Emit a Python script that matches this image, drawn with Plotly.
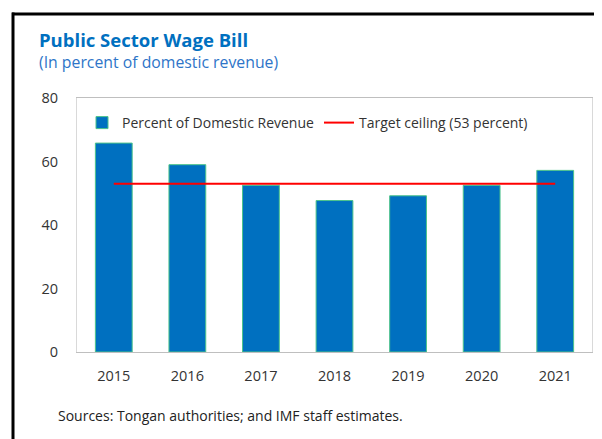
import plotly.graph_objects as go

years = ["2015", "2016", "2017", "2018", "2019", "2020", "2021"]
wage_bill = [65.8, 59.0, 52.5, 47.7, 49.2, 52.5, 57.2]
ceiling = [53, 53, 53, 53, 53, 53, 53]
y_ticks = [0, 20, 40, 60, 80]

# page offset (default body margin of the html page)
OFF = 8
W, H = 602 - OFF, 439 - OFF
L, R, T, B = 69, 10, 90, 87
pw, ph = W - L - R, H - T - B

def px(x):
    return (x - OFF - L) / pw

def py(y):
    return (H - B - (y - OFF)) / ph

FONT = "Open Sans"
BLUE = "#0070C0"

fig = go.Figure()
fig.add_trace(go.Bar(
    x=years, y=wage_bill, name="Percent of Domestic Revenue",
    marker=dict(color=BLUE, line=dict(color="#4CC38A", width=1)),
))
fig.add_trace(go.Scatter(
    x=years, y=ceiling, name="Target ceiling (53 percent)",
    mode="lines", line=dict(color="#FF0000", width=2),
))

fig.update_layout(
    width=W, height=H,
    margin=dict(l=L, r=R, t=T, b=B),
    paper_bgcolor="white", plot_bgcolor="white",
    bargap=0.5,
    font=dict(family=FONT, size=13, color="#333333"),
    showlegend=True,
    legend=dict(orientation="h", x=px(82), y=py(123), xanchor="left", yanchor="middle",
                font=dict(size=14, color="#333333"), bgcolor="rgba(0,0,0,0)",
                itemwidth=30, tracegroupgap=0, entrywidth=192),
    xaxis=dict(showgrid=False, showline=True, linecolor="#BFBFBF", linewidth=1,
               mirror=True, ticks="", tickfont=dict(size=14.5, color="#333333"),
               ticklabelstandoff=11),
    yaxis=dict(range=[0, 80], tickvals=y_ticks, showgrid=False, showline=True,
               linecolor="#D9D9D9", linewidth=1, mirror=True, ticks="",
               zeroline=False, tickfont=dict(size=14.5, color="#333333"),
               ticklabelstandoff=15),
    shapes=[
        dict(type="line", xref="paper", yref="paper", x0=px(12), x1=px(610),
             y0=py(14), y1=py(14), line=dict(color="black", width=3)),
        dict(type="line", xref="paper", yref="paper", x0=px(13), x1=px(13),
             y0=py(12.5), y1=py(450), line=dict(color="black", width=3)),
    ],
    annotations=[
        dict(text="<b>Public Sector Wage Bill</b>", xref="paper", yref="paper",
             x=px(37), y=py(40), xanchor="left", yanchor="middle", showarrow=False,
             font=dict(family=FONT, size=18.5, color=BLUE)),
        dict(text="(In percent of domestic revenue)", xref="paper", yref="paper",
             x=px(37), y=py(62), xanchor="left", yanchor="middle", showarrow=False,
             font=dict(family=FONT, size=15.8, color="#2E75C8")),
        dict(text="Sources: Tongan authorities; and IMF staff estimates.", xref="paper",
             yref="paper", x=px(56), y=py(415), xanchor="left", yanchor="middle",
             showarrow=False, font=dict(family=FONT, size=14, color="#222222")),
    ],
)

fig.write_html("out.html")
